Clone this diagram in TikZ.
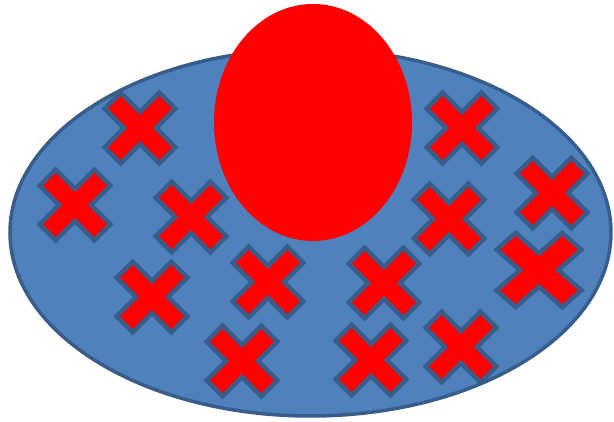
\documentclass[tikz,border=0pt]{standalone}
\usepackage{tikz}

\definecolor{plateblue}{HTML}{4F81BD}
\definecolor{rimblue}{HTML}{385D8A}

\tikzset{
  plate/.style={fill=plateblue, draw=rimblue, line width=3.5pt},
  blob/.style={fill=red, draw=none},
  crossmark/.style={fill=red, draw=rimblue, line width=4.5pt, line join=miter}
}

% one X mark, centred on the current origin
\newcommand{\xmark}{%
  \path[crossmark] (11.3,11.3) -- (38.7,11.3) -- (38.7,-11.3) -- (11.3,-11.3) -- (11.3,-38.7) -- (-11.3,-38.7)
    -- (-11.3,-11.3) -- (-38.7,-11.3) -- (-38.7,11.3) -- (-11.3,11.3) -- (-11.3,38.7) -- (11.3,38.7) -- cycle;}

\begin{document}
\begin{tikzpicture}[x=1pt,y=-1pt]
\useasboundingbox (0,0) rectangle (614,422);

% the big plate
\path[plate] (310.5,232.5) ellipse [x radius=300.5, y radius=183.5];

% the marks on the plate
\foreach \cx/\cy in {140/128, 75/205, 191/217, 152/297, 268/282, 242/361,
                     384/283, 371/360, 461/347, 462/128, 449/219, 552/193}{
  \begin{scope}[shift={(\cx,\cy)}, rotate=45]
    \xmark
  \end{scope}
}
\begin{scope}[shift={(539,270)}, xscale=1.2, yscale=1.05]
  \begin{scope}[rotate=45]
    \xmark
  \end{scope}
\end{scope}

% the red blob on top
\path[blob] (313,122.5) ellipse [x radius=99, y radius=118.5];
\end{tikzpicture}
\end{document}
